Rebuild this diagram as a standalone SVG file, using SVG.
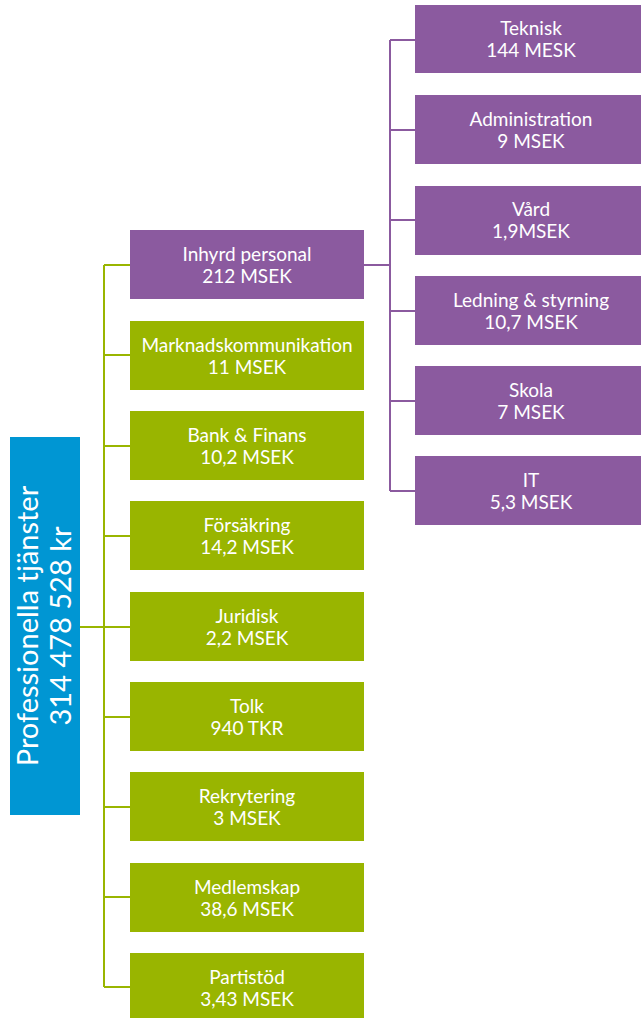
<svg xmlns="http://www.w3.org/2000/svg" width="641" height="1018" viewBox="0 0 641 1018">
<style>
.g{fill:#99B500}
.p{fill:#8B5A9F}
.r{fill:#0096D3}
text{font-family:Lato,"Open Sans",sans-serif;fill:#fff;text-anchor:middle;font-size:19px}
.big{font-size:29px}
.cg{stroke:#99B500;stroke-width:2;fill:none}
.cp{stroke:#8B5A9F;stroke-width:2;fill:none}
</style>
<g id="connectors">
<path class="cg" d="M80 627H104M104 265V987M104 265H130M104 355H130M104 446H130M104 536H130M104 627H130M104 717H130M104 807H130M104 897H130M104 987H130"/>
<path class="cp" d="M364 265H390M390 40V491M390 40H415M390 130H415M390 220H415M390 311H415M390 401H415M390 491H415"/>
</g>
<g id="root"><rect class="r" x="10" y="437" width="70" height="378"/>
<text class="big" transform="translate(38 626) rotate(-90)">Professionella tjänster</text>
<text class="big" transform="translate(71 626) rotate(-90)">314 478 528 kr</text></g>
<g id="inhyrd"><rect class="p" x="130" y="230" width="234" height="69"/><text x="247" y="261">Inhyrd personal</text><text x="247" y="283">212 MSEK</text></g>
<g id="marknad"><rect class="g" x="130" y="321" width="234" height="69"/><text x="247" y="352">Marknadskommunikation</text><text x="247" y="374">11 MSEK</text></g>
<g id="bank"><rect class="g" x="130" y="411" width="234" height="69"/><text x="247" y="442">Bank &amp; Finans</text><text x="247" y="464">10,2 MSEK</text></g>
<g id="forsakring"><rect class="g" x="130" y="501" width="234" height="69"/><text x="247" y="532">Försäkring</text><text x="247" y="554">14,2 MSEK</text></g>
<g id="juridisk"><rect class="g" x="130" y="592" width="234" height="69"/><text x="247" y="623">Juridisk</text><text x="247" y="645">2,2 MSEK</text></g>
<g id="tolk"><rect class="g" x="130" y="682" width="234" height="69"/><text x="247" y="713">Tolk</text><text x="247" y="735">940 TKR</text></g>
<g id="rekrytering"><rect class="g" x="130" y="772" width="234" height="69"/><text x="247" y="803">Rekrytering</text><text x="247" y="825">3 MSEK</text></g>
<g id="medlemskap"><rect class="g" x="130" y="863" width="234" height="69"/><text x="247" y="894">Medlemskap</text><text x="247" y="916">38,6 MSEK</text></g>
<g id="partistod"><rect class="g" x="130" y="953" width="234" height="69"/><text x="247" y="984">Partistöd</text><text x="247" y="1006">3,43 MSEK</text></g>
<g id="teknisk"><rect class="p" x="415" y="5" width="226" height="68"/><text x="531" y="35">Teknisk</text><text x="531" y="57">144 MESK</text></g>
<g id="administration"><rect class="p" x="415" y="95" width="226" height="69"/><text x="531" y="126">Administration</text><text x="531" y="148">9 MSEK</text></g>
<g id="vard"><rect class="p" x="415" y="186" width="226" height="69"/><text x="531" y="216">Vård</text><text x="531" y="238">1,9MSEK</text></g>
<g id="ledning"><rect class="p" x="415" y="276" width="226" height="69"/><text x="531" y="307">Ledning &amp; styrning</text><text x="531" y="329">10,7 MSEK</text></g>
<g id="skola"><rect class="p" x="415" y="366" width="226" height="69"/><text x="531" y="397">Skola</text><text x="531" y="419">7 MSEK</text></g>
<g id="it"><rect class="p" x="415" y="456" width="226" height="69"/><text x="531" y="487">IT</text><text x="531" y="509">5,3 MSEK</text></g>
</svg>
